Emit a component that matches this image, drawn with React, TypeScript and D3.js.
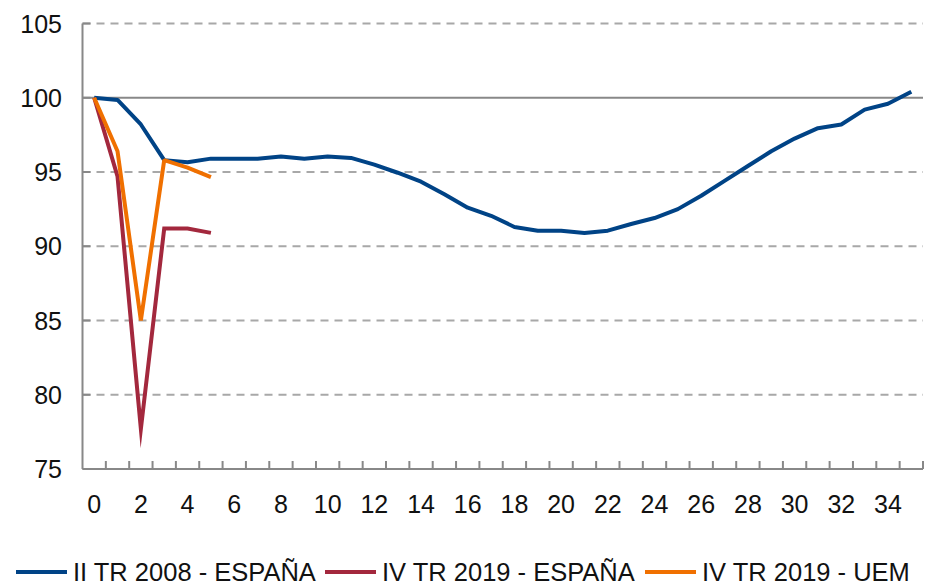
import React from 'react'
import * as d3 from 'd3'

// quarters since the peak (0..35)
const quarters = d3.range(0, 36)
const yTicks = [75, 80, 85, 90, 95, 100, 105]
const xTickLabels = d3.range(0, 36, 2)

const seriesNames = ['II TR 2008 - ESPAÑA', 'IV TR 2019 - ESPAÑA', 'IV TR 2019 - UEM']
const seriesColors = ['#004386', '#a3283d', '#f07000']

const spain2008 = [
  100, 99.85, 98.2, 95.8, 95.65, 95.9, 95.9, 95.9, 96.05, 95.9,
  96.05, 95.95, 95.5, 94.95, 94.35, 93.5, 92.6, 92.05, 91.3, 91.05,
  91.05, 90.9, 91.05, 91.5, 91.9, 92.5, 93.4, 94.4, 95.4, 96.4,
  97.25, 97.95, 98.2, 99.2, 99.6, 100.4,
]
const spain2019 = [100, 94.7, 77.7, 91.2, 91.2, 90.9]
const uem2019 = [100, 96.4, 85.0, 95.8, 95.3, 94.65]

const W = 925
const H = 587
const margin = { left: 82.5, right: 2, top: 23.5, bottom: 118 }

export default function App() {
  const x = d3.scaleBand<number>()
    .domain(quarters)
    .range([margin.left, W - margin.right])
    .paddingInner(0)
    .paddingOuter(0)
  const y = d3.scaleLinear().domain([75, 105]).range([H - margin.bottom, margin.top])
  const cx = (i: number) => (x(i) ?? 0) + x.bandwidth() / 2

  const line = d3.line<number>()
    .x((_, i) => cx(i))
    .y(d => y(d))

  const series = [spain2008, spain2019, uem2019]
  const x0 = margin.left
  const x1 = W - margin.right
  const yBottom = y(75)
  const font = '"Liberation Sans", Arial, Helvetica, sans-serif'

  const legendLines = [16, 325, 645]

  return (
    <svg width={W} height={H} style={{ position: 'absolute', left: 0, top: 0, background: '#fff' }}
      fontFamily={font}>
      {/* grid */}
      {yTicks.filter(t => t !== 75).map(t => (
        <line key={t} x1={x0} x2={x1} y1={y(t)} y2={y(t)}
          stroke={t === 100 ? '#888' : '#a8a8a8'}
          strokeWidth={2}
          strokeDasharray={t === 100 ? undefined : '8,6'} />
      ))}
      {/* y axis */}
      <line x1={x0} x2={x0} y1={y(105)} y2={yBottom} stroke="#888" strokeWidth={2} />
      {yTicks.map(t => (
        <g key={t}>
          <line x1={x0} x2={x0 + 8} y1={y(t)} y2={y(t)} stroke="#888" strokeWidth={2} />
          <text x={62} y={y(t)} dy="0.36em" textAnchor="end" fontSize={25} fill="#111">{t}</text>
        </g>
      ))}
      {/* x axis */}
      <line x1={x0} x2={x1} y1={yBottom} y2={yBottom} stroke="#888" strokeWidth={2} />
      {quarters.map(q => (
        <line key={q} x1={(x(q) ?? 0) + x.bandwidth()} x2={(x(q) ?? 0) + x.bandwidth()}
          y1={yBottom} y2={yBottom - 8} stroke="#888" strokeWidth={2} />
      ))}
      {xTickLabels.map(q => (
        <text key={q} x={cx(q)} y={513} textAnchor="middle" fontSize={25} fill="#111">{q}</text>
      ))}
      {/* series */}
      {series.map((s, i) => (
        <path key={i} d={line(s) ?? ''} fill="none" stroke={seriesColors[i]} strokeWidth={4}
          strokeLinejoin={i === 1 ? 'miter' : 'bevel'} strokeMiterlimit={14} />
      ))}
      {/* legend */}
      {seriesNames.map((n, i) => (
        <g key={n}>
          <line x1={legendLines[i]} x2={legendLines[i] + 51} y1={572} y2={572}
            stroke={seriesColors[i]} strokeWidth={4} />
          <text x={legendLines[i] + 57} y={581} fontSize={25.5} fill="#111">{n}</text>
        </g>
      ))}
    </svg>
  )
}
